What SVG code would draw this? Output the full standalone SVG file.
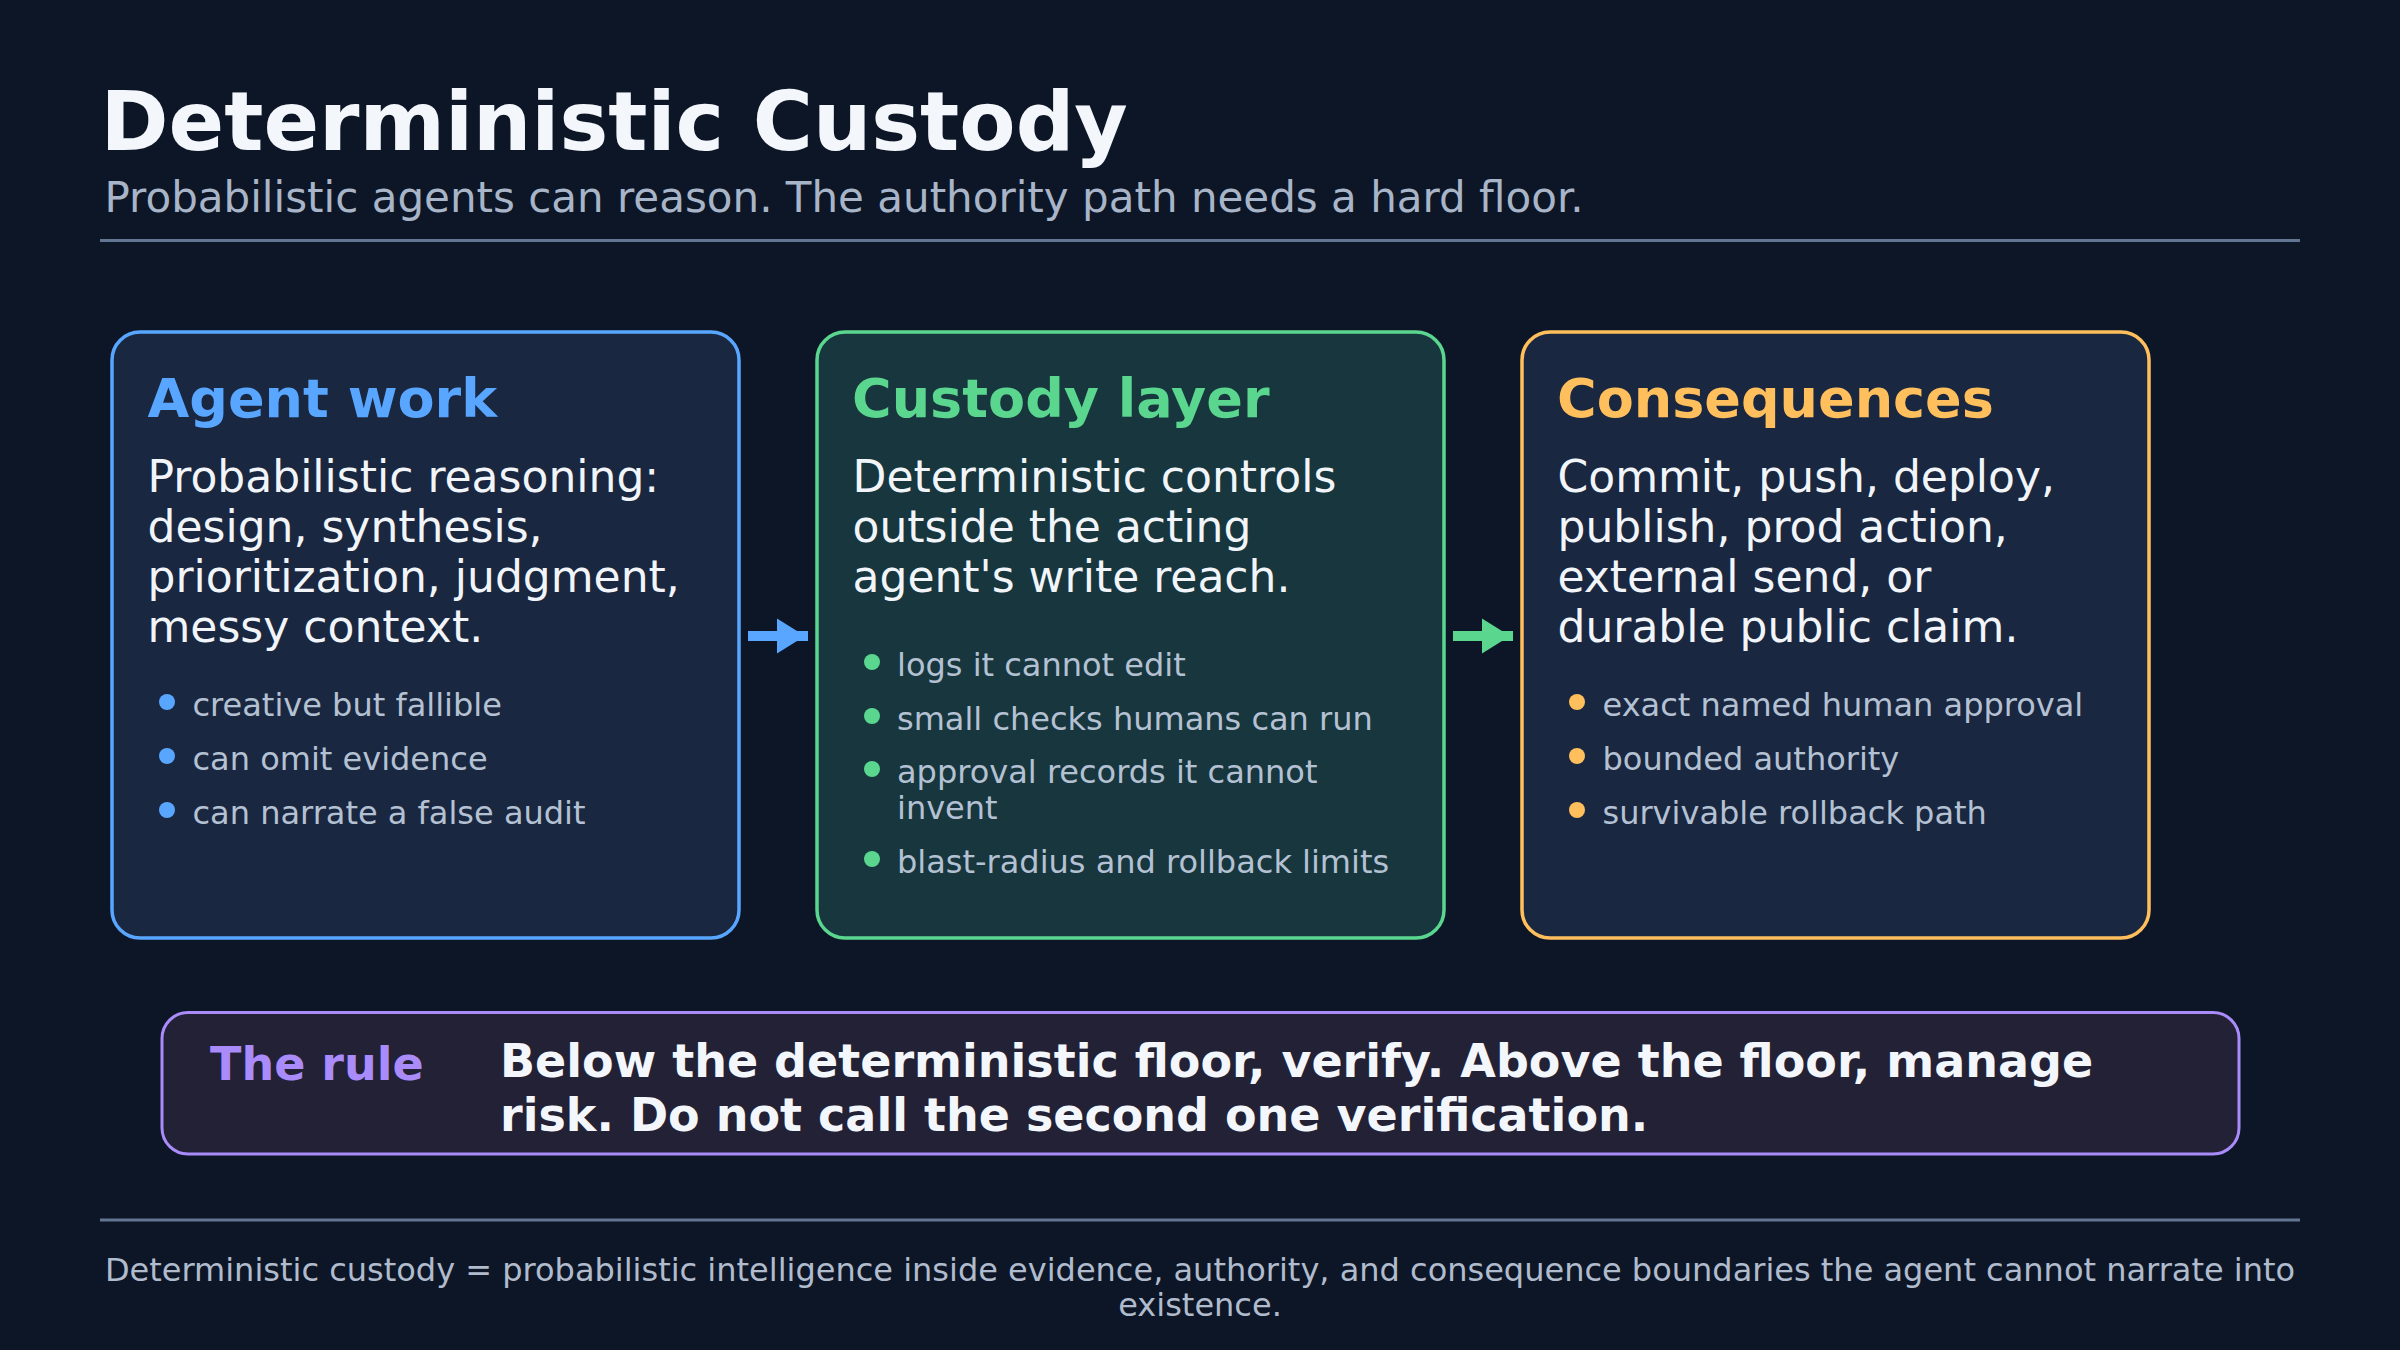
<svg xmlns="http://www.w3.org/2000/svg" width="2400" height="1350" viewBox="0 0 2400 1350">
<style>
text{font-family:"DejaVu Sans","Liberation Sans",sans-serif}
.title{font-size:82px;font-weight:bold;fill:#f3f6fb}
.sub{font-size:42px;fill:#a8b5c8}
.ctitle{font-size:54px;font-weight:bold}
.body{font-size:44px;fill:#f1f5f9}
.bul{font-size:32px;fill:#b4c1d3}
.card{stroke-width:3.5}
.rulelbl{font-size:46px;font-weight:bold;fill:#a98bfa}
.ruletxt{font-size:46px;font-weight:bold;fill:#f3f6fb}
.foot{font-size:32px;fill:#b0bccd}
.hr{stroke:#627593;stroke-width:3}
</style>
<defs>
<marker id="ahB" markerUnits="userSpaceOnUse" markerWidth="32" markerHeight="36" refX="31" refY="17.5" orient="auto" overflow="visible"><path d="M0,0 L28,17.5 L0,35 Z" fill="#58a6ff"/></marker>
<marker id="ahG" markerUnits="userSpaceOnUse" markerWidth="32" markerHeight="36" refX="31" refY="17.5" orient="auto" overflow="visible"><path d="M0,0 L28,17.5 L0,35 Z" fill="#5ad68f"/></marker>
</defs>
<rect x="0" y="0" width="2400" height="1350" fill="#0d1626"/>

<g id="header">
<text class="title" x="100.5" y="150">Deterministic Custody</text>
<text class="sub" x="104.5" y="211.5">Probabilistic agents can reason. The authority path needs a hard floor.</text>
<line class="hr" x1="100" y1="240.5" x2="2300" y2="240.5"/>
</g>

<g id="agent-work">
<rect class="card" x="112" y="332" width="627" height="606" rx="28" fill="#1a2740" stroke="#58a6ff"/>
<text class="ctitle" x="147.5" y="417" fill="#58a6ff">Agent work</text>
<text class="body" x="147.5" y="491.5">Probabilistic reasoning:</text>
<text class="body" x="147.5" y="541.5">design, synthesis,</text>
<text class="body" x="147.5" y="591.5">prioritization, judgment,</text>
<text class="body" x="147.5" y="641.5">messy context.</text>
<circle cx="167" cy="702" r="8" fill="#58a6ff"/>
<text class="bul" x="192.5" y="715.5">creative but fallible</text>
<circle cx="167" cy="756" r="8" fill="#58a6ff"/>
<text class="bul" x="192.5" y="769.5">can omit evidence</text>
<circle cx="167" cy="810" r="8" fill="#58a6ff"/>
<text class="bul" x="192.5" y="823.5">can narrate a false audit</text>
</g>

<g id="custody-layer">
<rect class="card" x="817" y="332" width="627" height="606" rx="28" fill="#17363e" stroke="#5ad68f"/>
<text class="ctitle" x="852" y="417" fill="#5ad68f">Custody layer</text>
<text class="body" x="852.5" y="491.5">Deterministic controls</text>
<text class="body" x="852.5" y="541.5">outside the acting</text>
<text class="body" x="852.5" y="591.5">agent's write reach.</text>
<circle cx="872" cy="662" r="8" fill="#5ad68f"/>
<text class="bul" x="897" y="675.5">logs it cannot edit</text>
<circle cx="872" cy="716" r="8" fill="#5ad68f"/>
<text class="bul" x="897" y="729.5">small checks humans can run</text>
<circle cx="872" cy="769" r="8" fill="#5ad68f"/>
<text class="bul" x="897" y="782.5">approval records it cannot</text>
<text class="bul" x="897" y="818.5">invent</text>
<circle cx="872" cy="859" r="8" fill="#5ad68f"/>
<text class="bul" x="897" y="872.5">blast-radius and rollback limits</text>
</g>

<g id="consequences">
<rect class="card" x="1522" y="332" width="627" height="606" rx="28" fill="#1a2740" stroke="#ffbf5c"/>
<text class="ctitle" x="1557" y="417" fill="#ffbf5c">Consequences</text>
<text class="body" x="1557.5" y="491.5">Commit, push, deploy,</text>
<text class="body" x="1557.5" y="541.5">publish, prod action,</text>
<text class="body" x="1557.5" y="591.5">external send, or</text>
<text class="body" x="1557.5" y="641.5">durable public claim.</text>
<circle cx="1577" cy="702" r="8" fill="#ffbf5c"/>
<text class="bul" x="1602.5" y="715.5">exact named human approval</text>
<circle cx="1577" cy="756" r="8" fill="#ffbf5c"/>
<text class="bul" x="1602.5" y="769.5">bounded authority</text>
<circle cx="1577" cy="810" r="8" fill="#ffbf5c"/>
<text class="bul" x="1602.5" y="823.5">survivable rollback path</text>
</g>

<g id="connectors">
<line x1="748" y1="636" x2="808" y2="636" stroke="#58a6ff" stroke-width="10" marker-end="url(#ahB)"/>
<line x1="1453" y1="636" x2="1513" y2="636" stroke="#5ad68f" stroke-width="10" marker-end="url(#ahG)"/>
</g>

<g id="the-rule">
<rect x="162" y="1012.5" width="2077" height="141.5" rx="26" fill="#222135" stroke="#a98bfa" stroke-width="3"/>
<text class="rulelbl" x="210" y="1080">The rule</text>
<text class="ruletxt" x="500" y="1077">Below the deterministic floor, verify. Above the floor, manage</text>
<text class="ruletxt" x="500" y="1131">risk. Do not call the second one verification.</text>
</g>

<g id="footer">
<line class="hr" x1="100" y1="1220" x2="2300" y2="1220"/>
<text class="foot" x="1200" y="1280.5" text-anchor="middle">Deterministic custody = probabilistic intelligence inside evidence, authority, and consequence boundaries the agent cannot narrate into</text>
<text class="foot" x="1200" y="1315.5" text-anchor="middle">existence.</text>
</g>
</svg>
